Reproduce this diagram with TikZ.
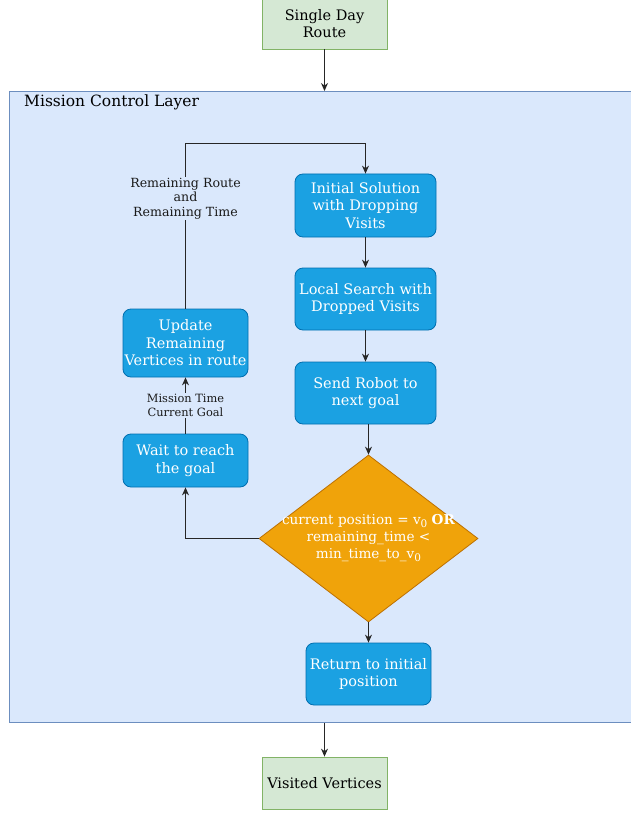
\documentclass[tikz,border=0pt]{standalone}
\usepackage{fontspec}
\setmainfont{DejaVu Serif}
\usetikzlibrary{shapes.geometric,arrows.meta}

\definecolor{greenfill}{HTML}{D5E8D4}
\definecolor{greenline}{HTML}{82B366}
\definecolor{layerfill}{HTML}{DAE8FC}
\definecolor{layerline}{HTML}{6C8EBF}
\definecolor{stepfill}{HTML}{1BA1E2}
\definecolor{stepline}{HTML}{006EAF}
\definecolor{decfill}{HTML}{F0A30A}
\definecolor{decline}{HTML}{BD7000}
\definecolor{labeltext}{HTML}{1A1A1A}

% lowered subscript zero in the text font
\newcommand{\subzero}{\raisebox{-2.5pt}{\fontsize{10.5}{10.5}\selectfont 0}}

\begin{document}
\begin{tikzpicture}[x=1pt,y=-1pt,
  iobox/.style={draw=greenline,fill=greenfill,line width=0.8pt,
    minimum width=125pt,inner sep=0pt,align=center,
    font=\fontsize{14.5}{17}\selectfont},
  stepbox/.style={draw=stepline,fill=stepfill,line width=0.8pt,
    rounded corners=8pt,text=white,inner sep=0pt,align=center,
    font=\fontsize{14.5}{17.5}\selectfont},
  decision/.style={diamond,draw=decline,fill=decfill,line width=0.8pt,
    minimum width=219pt,minimum height=167pt,inner sep=0pt},
  dectext/.style={text=white,align=center,font=\fontsize{13.6}{17}\selectfont},
  layer/.style={draw=layerline,fill=layerfill,line width=0.8pt,
    minimum width=626pt,minimum height=631pt,inner sep=0pt},
  wirelabel/.style={fill=layerfill,text=labeltext,align=center,inner sep=1pt},
  arr/.style={draw=black!85,line width=0.9pt,
    -{Stealth[length=8pt,width=7pt]}}]

\useasboundingbox (0,0) rectangle (631,813);

% container
\node[layer,anchor=north west] (layer) at (9,91) {};
\node[anchor=west,inner sep=0pt,font=\fontsize{15.5}{18}\selectfont] (layertitle) at (24,102) {Mission Control Layer};

% input / output
\node[iobox,minimum height=50pt] (single) at (324.5,24) {Single Day\\Route};
\node[iobox,minimum height=52pt] (visited) at (324.5,783) {Visited Vertices};

% main column
\node[stepbox,minimum width=141pt,minimum height=63pt] (init) at (365.5,205.5)
  {Initial Solution\\with Dropping\\Visits};
\node[stepbox,minimum width=141pt,minimum height=62pt] (local) at (365.5,299)
  {Local Search with\\Dropped Visits};
\node[stepbox,minimum width=141pt,minimum height=62pt] (send) at (365.5,393)
  {Send Robot to\\next goal};
\node[decision] (dec) at (368.5,538.5) {};
\node[dectext] (dectxt) at (dec.center)
  {current position = v\subzero{} \textbf{OR}\\remaining\_time <\\min\_time\_to\_v\subzero};
\node[stepbox,minimum width=125pt,minimum height=62pt] (ret) at (368.5,674)
  {Return to initial\\position};

% feedback column
\node[stepbox,minimum width=125pt,minimum height=68pt] (update) at (185.5,343)
  {Update\\Remaining\\Vertices in route};
\node[stepbox,minimum width=125pt,minimum height=53pt] (wait) at (185.5,460.5)
  {Wait to reach\\the goal};

% connectors
\draw[arr] (single.south) -- (layer.north west -| single.south);
\draw[arr] (layer.south west -| visited.north) -- (visited.north);
\draw[arr] (init.south) -- (local.north);
\draw[arr] (local.south) -- (send.north);
\draw[arr] (send.south -| dec.north) -- (dec.north);
\draw[arr] (dec.south) -- (ret.north);
\draw[arr] (dec.west) -| (wait.south);
\draw[arr] (wait.north) -- (update.south)
  node[wirelabel,midway,font=\fontsize{11.4}{14}\selectfont] (lblmission)
  {Mission Time\\Current Goal};
\draw[arr] (update.north) -- (185.5,143) -| (init.north);
\node[wirelabel,font=\fontsize{12.6}{14.5}\selectfont] (lblremain) at (185.5,198.5)
  {Remaining Route\\and\\Remaining Time};

\end{tikzpicture}
\end{document}
